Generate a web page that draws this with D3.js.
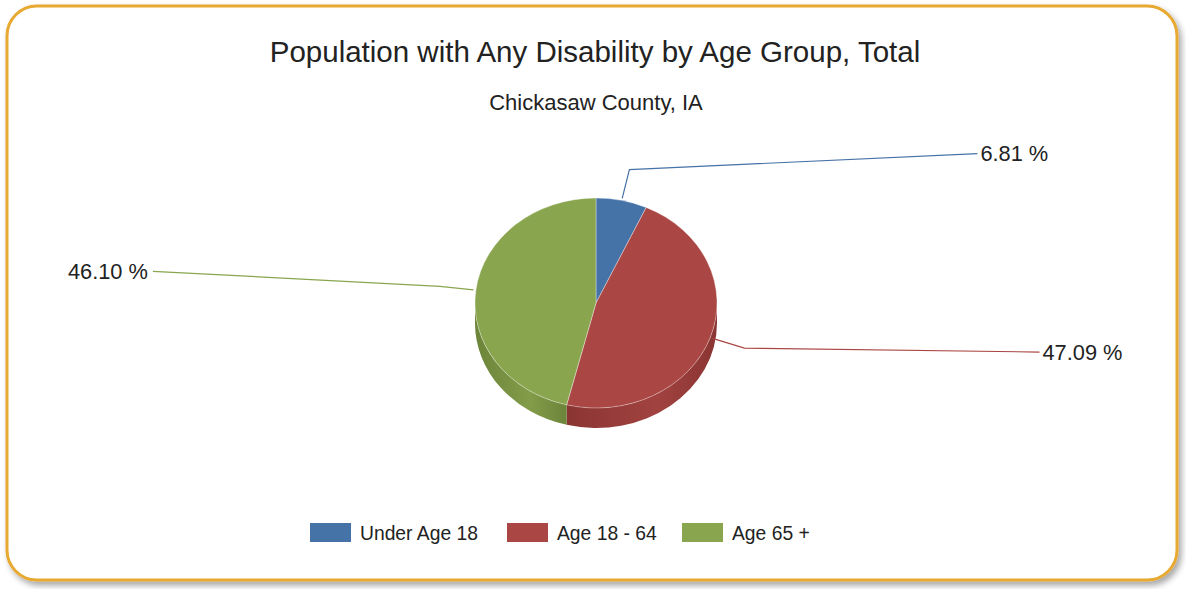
<!DOCTYPE html>
<html>
<head>
<meta charset="utf-8">
<script src="https://cdn.jsdelivr.net/npm/d3@7"></script>
<style>
  html, body { margin: 0; padding: 0; background: #fff; }
  svg { display: block; font-family: "Liberation Sans", Arial, sans-serif; }
</style>
</head>
<body>
<svg id="chart" width="1186" height="589"></svg>
<script>
// données du graphique
const categories = ['Under Age 18', 'Age 18 - 64', 'Age 65 +']
const values = [6.81, 47.09, 46.10]
const colors = ['#4572A7', '#AA4643', '#89A54E']
const sideColors = ['#355a86', '#8a3533', '#6c8439']
const title = 'Population with Any Disability by Age Group, Total'
const subtitle = 'Chickasaw County, IA'

const W = 1186, H = 589
const svg = d3.select('#chart')
const defs = svg.append('defs')

// ombre du cadre
const shadow = defs.append('filter').attr('id', 'shadow')
  .attr('x', '-5%').attr('y', '-5%').attr('width', '110%').attr('height', '115%')
shadow.append('feDropShadow').attr('dx', 3).attr('dy', 4)
  .attr('stdDeviation', 3).attr('flood-color', '#000').attr('flood-opacity', 0.35)

svg.append('rect')
  .attr('x', 7).attr('y', 6).attr('width', 1170).attr('height', 574)
  .attr('rx', 30).attr('ry', 30)
  .attr('fill', '#fff').attr('stroke', '#E8A932').attr('stroke-width', 3)
  .attr('filter', 'url(#shadow)')

// titres
svg.append('text').attr('x', 595).attr('y', 62)
  .attr('text-anchor', 'middle').attr('font-size', 29.5).attr('fill', '#222')
  .text(title)
svg.append('text').attr('x', 596).attr('y', 110)
  .attr('text-anchor', 'middle').attr('font-size', 22).attr('fill', '#222')
  .text(subtitle)

// géométrie du camembert 3D
const cx = 596, cy = 303, rx = 121, ry = 105, depth = 20
const color = d3.scaleOrdinal().domain(categories).range(colors)
const side = d3.scaleOrdinal().domain(categories).range(sideColors)

const pie = d3.pie().sort(null).value(d => d.v).startAngle(0).endAngle(2 * Math.PI)
const arcs = pie(categories.map((c, i) => ({ c, v: values[i] })))

const pt = (a, k = 1, dy = 0) => [cx + rx * k * Math.sin(a), cy + dy - ry * k * Math.cos(a)]

// parois latérales (moitié avant uniquement)
const g = svg.append('g')
arcs.forEach((d, i) => {
  const a0 = Math.max(d.startAngle, Math.PI / 2)
  const a1 = Math.min(d.endAngle, 3 * Math.PI / 2)
  if (a1 <= a0) return
  const gid = 'side' + i
  const p0 = pt(a0), p1 = pt(a1)
  const grad = defs.append('linearGradient').attr('id', gid)
    .attr('gradientUnits', 'userSpaceOnUse')
    .attr('x1', Math.min(p0[0], p1[0])).attr('x2', Math.max(p0[0], p1[0]))
    .attr('y1', 0).attr('y2', 0)
  const base = d3.color(color(d.data.c))
  grad.append('stop').attr('offset', 0).attr('stop-color', side(d.data.c))
  grad.append('stop').attr('offset', 0.6).attr('stop-color', base.darker(0.15))
  grad.append('stop').attr('offset', 1).attr('stop-color', side(d.data.c))
  const large = (a1 - a0) > Math.PI ? 1 : 0
  const q1 = pt(a1, 1, depth), q0 = pt(a0, 1, depth)
  const path = `M${p0}A${rx},${ry} 0 ${large} 1 ${p1}L${q1}A${rx},${ry} 0 ${large} 0 ${q0}Z`
  g.append('path').attr('d', path).attr('fill', `url(#${gid})`)
})

// face supérieure
arcs.forEach(d => {
  const p0 = pt(d.startAngle), p1 = pt(d.endAngle)
  const large = (d.endAngle - d.startAngle) > Math.PI ? 1 : 0
  g.append('path')
    .attr('d', `M${cx},${cy}L${p0}A${rx},${ry} 0 ${large} 1 ${p1}Z`)
    .attr('fill', color(d.data.c))
    .attr('stroke', 'rgba(255,255,255,0.45)').attr('stroke-width', 0.8)
})

// lignes de rappel et étiquettes (réglages de mise en page)
const leaderRun = [348, 295, 287]
const leaderRise = [-16, 4, -15]
arcs.forEach((d, i) => {
  const mid = (d.startAngle + d.endAngle) / 2
  const right = Math.sin(mid) >= 0
  const start = pt(mid, 1.02)
  const elbow = pt(mid, 1.3)
  const end = [elbow[0] + (right ? 1 : -1) * leaderRun[i], elbow[1] + leaderRise[i]]
  g.append('polyline')
    .attr('points', [start, elbow, end].map(p => p.join(',')).join(' '))
    .attr('fill', 'none').attr('stroke', color(d.data.c)).attr('stroke-width', 1.2)
  g.append('text')
    .attr('x', end[0] + (right ? 3 : -5)).attr('y', end[1])
    .attr('dy', '0.35em').attr('text-anchor', right ? 'start' : 'end')
    .attr('font-size', 21.8).attr('fill', '#222')
    .text(d3.format('.2f')(d.data.v) + ' %')
})

// légende
const legendX = [310, 507, 682]
const legend = svg.append('g')
categories.forEach((c, i) => {
  legend.append('rect').attr('x', legendX[i]).attr('y', 523)
    .attr('width', 41).attr('height', 19).attr('fill', color(c))
  legend.append('text').attr('x', legendX[i] + 50).attr('y', 533)
    .attr('dy', '0.35em').attr('font-size', 19.3).attr('fill', '#222')
    .text(c)
})
</script>
</body>
</html>
